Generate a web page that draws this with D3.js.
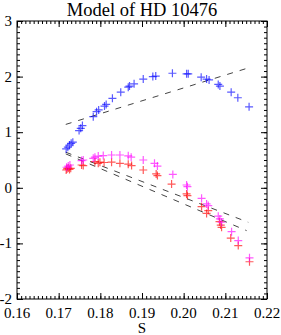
<!DOCTYPE html>
<html>
<head>
<meta charset="utf-8">
<script src="https://cdn.jsdelivr.net/npm/d3@7"></script>
<style>
  body { margin: 0; background: #fff; }
  text { font-family: "Liberation Serif", "Times New Roman", serif; fill: #000; }
</style>
</head>
<body>
<div id="chart"></div>
<script>
// Data
var xTicks = [0.16, 0.17, 0.18, 0.19, 0.20, 0.21, 0.22];
var yTicks = [-2, -1, 0, 1, 2, 3];

var blueS = [0.1718, 0.1722, 0.1726, 0.1730, 0.1734, 0.1749, 0.1753, 0.1757, 0.1783, 0.1791,
             0.1796, 0.1810, 0.1814, 0.1829, 0.1849, 0.1867, 0.1870, 0.1881, 0.1903, 0.1926,
             0.1933, 0.1973, 0.2007, 0.2011, 0.2042, 0.2055, 0.2061, 0.2083, 0.2087, 0.2114,
             0.2130, 0.2157];
var blueV = [0.70, 0.73, 0.77, 0.80, 0.82, 1.03, 1.07, 1.12, 1.28, 1.37,
             1.40, 1.47, 1.50, 1.61, 1.72, 1.81, 1.83, 1.87, 1.955, 2.00,
             2.01, 2.06, 2.05, 2.05, 1.99, 1.955, 1.94, 1.86, 1.83, 1.72,
             1.62, 1.457];

var magS = [0.1719, 0.1723, 0.1727, 0.1755, 0.1759, 0.1783, 0.1787, 0.1795, 0.1807, 0.1827,
            0.1847, 0.1867, 0.1874, 0.1903, 0.1930, 0.1937, 0.1974, 0.2007, 0.2009, 0.2043,
            0.2055, 0.2059, 0.2083, 0.2087, 0.2091, 0.2115, 0.2131, 0.2158];
var magV = [0.37, 0.39, 0.41, 0.49, 0.50, 0.53, 0.55, 0.57, 0.58, 0.59,
            0.59, 0.575, 0.55, 0.50, 0.44, 0.39, 0.24, 0.05, 0.02, -0.19,
            -0.29, -0.32, -0.51, -0.56, -0.62, -0.79, -0.95, -1.26];

var redS = [0.1718, 0.1720, 0.1723, 0.1726, 0.1729, 0.1755, 0.1759, 0.1787, 0.1795, 0.1799,
            0.1809, 0.1827, 0.1847, 0.1867, 0.1875, 0.1903, 0.1934, 0.1937, 0.1971, 0.2007,
            0.2009, 0.2043, 0.2055, 0.2059, 0.2086, 0.2089, 0.2091, 0.2113, 0.2131, 0.2158];
var redV = [0.32, 0.34, 0.355, 0.33, 0.35, 0.41, 0.40, 0.47, 0.44, 0.46,
            0.455, 0.46, 0.44, 0.425, 0.40, 0.32, 0.25, 0.22, 0.067, -0.11,
            -0.14, -0.34, -0.46, -0.41, -0.61, -0.67, -0.71, -0.905, -1.04, -1.33];

// dashed fit lines: [S0, V0, S1, V1]
var fitBlue = [0.1717, 1.14, 0.2159, 2.165];
var fitUpper = [0.1717, 0.64, 0.2155, -0.62];
var fitLower = [0.1717, 0.61, 0.2151, -0.77];

function drawChart() {
    var svgWidth = 281, svgHeight = 335;
    var margin = { top: 21, right: 14, bottom: 36, left: 17 };
    var width = svgWidth - margin.left - margin.right;
    var height = svgHeight - margin.top - margin.bottom;

    var svg = d3.select("#chart").append("svg")
        .attr("width", svgWidth)
        .attr("height", svgHeight);

    var g = svg.append("g")
        .attr("transform", `translate(${margin.left}, ${margin.top})`);

    var x = d3.scaleLinear().domain([0.16, 0.22]).range([0, width]);
    var y = d3.scaleLinear().domain([-2, 3]).range([height, 0]);

    var xMinor = d3.range(0, 61).map(i => 0.16 + i * 0.001);
    var yMinor = d3.range(0, 51).map(i => -2 + i * 0.1);

    // minor + major ticks on all four sides, pointing inward
    function ticks(axisFn, scale, vals, size, tx) {
        var a = g.append("g")
            .attr("transform", tx)
            .call(axisFn(scale).tickValues(vals).tickSize(size).tickFormat(""));
        a.select(".domain").remove();
        a.selectAll("line").attr("stroke", "#000").attr("stroke-width", 1);
    }
    ticks(d3.axisBottom, x, xMinor, -3, `translate(0, ${height})`);
    ticks(d3.axisBottom, x, xTicks, -6, `translate(0, ${height})`);
    ticks(d3.axisTop, x, xMinor, -3, "translate(0, 0)");
    ticks(d3.axisTop, x, xTicks, -6, "translate(0, 0)");
    ticks(d3.axisLeft, y, yMinor, -3, "translate(0, 0)");
    ticks(d3.axisLeft, y, yTicks, -6, "translate(0, 0)");
    ticks(d3.axisRight, y, yMinor, -3, `translate(${width}, 0)`);
    ticks(d3.axisRight, y, yTicks, -6, `translate(${width}, 0)`);

    // frame
    g.append("rect")
        .attr("x", 0).attr("y", 0)
        .attr("width", width).attr("height", height)
        .attr("fill", "none").attr("stroke", "#000");

    // tick labels
    g.selectAll(".xl").data(xTicks).enter().append("text")
        .attr("x", d => x(d))
        .attr("y", height + 19)
        .attr("text-anchor", "middle")
        .style("font-size", "15px")
        .text(d => d3.format(".2f")(d));

    g.selectAll(".yl").data(yTicks).enter().append("text")
        .attr("x", -5)
        .attr("y", d => y(d) + 5)
        .attr("text-anchor", "end")
        .style("font-size", "15px")
        .text(d => d);

    // titles
    svg.append("text")
        .attr("x", margin.left + width / 2)
        .attr("y", 16)
        .attr("text-anchor", "middle")
        .style("font-size", "18.5px")
        .text("Model of HD 10476");

    svg.append("text")
        .attr("x", margin.left + width / 2)
        .attr("y", 333)
        .attr("text-anchor", "middle")
        .style("font-size", "15px")
        .text("S");

    // dashed lines
    [fitBlue, fitUpper, fitLower].forEach(function(f) {
        g.append("line")
            .attr("x1", x(f[0])).attr("y1", y(f[1]))
            .attr("x2", x(f[2])).attr("y2", y(f[3]))
            .attr("stroke", "#444")
            .attr("stroke-width", 1)
            .attr("stroke-dasharray", "6,7");
    });

    // plus markers
    function pluses(sArr, vArr, color) {
        var pts = sArr.map((s, i) => [s, vArr[i]]);
        g.append("g").selectAll("path").data(pts).enter().append("path")
            .attr("d", d => {
                var cx = x(d[0]), cy = y(d[1]);
                return `M${cx - 4},${cy}H${cx + 4}M${cx},${cy - 4}V${cy + 4}`;
            })
            .attr("stroke", color)
            .attr("stroke-width", 1.2)
            .attr("stroke-opacity", 0.65)
            .attr("fill", "none");
    }
    pluses(blueS, blueV, "rgb(0,0,255)");
    pluses(redS, redV, "rgb(255,0,0)");
    pluses(magS, magV, "rgb(255,0,255)");
}

drawChart();
</script>
</body>
</html>
